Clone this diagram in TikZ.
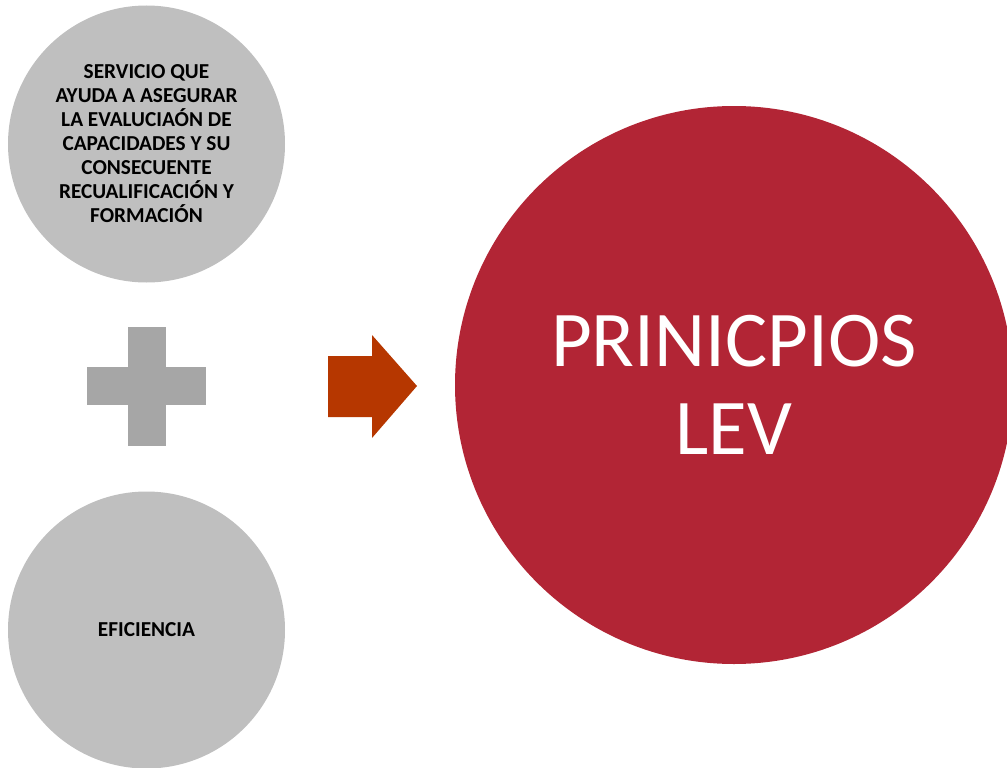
\documentclass[tikz,border=0pt]{standalone}
\usepackage{fontspec}
\setmainfont{Carlito}
\definecolor{grigio}{HTML}{BFBFBF}
\definecolor{grigioscuro}{HTML}{A6A6A6}
\definecolor{rosso}{HTML}{B22535}
\definecolor{arancio}{HTML}{B63700}
\tikzset{
	cerchio/.style={circle, fill=grigio, inner sep=0pt, minimum size=277pt, align=center,
		font=\bfseries\fontsize{21.3}{24}\selectfont},
}
\begin{document}
\begin{tikzpicture}[x=1pt, y=-1pt]
		\useasboundingbox (0,0) rectangle (1007,768);
		% cerchi grigi
		\node[cerchio] (servicio) at (146.5,144) {SERVICIO QUE\\AYUDA A ASEGURAR\\LA EVALUCIAÓN DE\\CAPACIDADES Y SU\\CONSECUENTE\\RECUALIFICACIÓN Y\\FORMACIÓN};
		\node[cerchio] (eficiencia) at (146.5,630) {EFICIENCIA};
		
		% segno piu
		\fill[color=grigioscuro] (128,327) rectangle (166,446);
		\fill[color=grigioscuro] (87,367) rectangle (206,405);
		
		% freccia
		\fill[color=arancio] (328,356) -- (372,356) -- (372,335) -- (417,386) -- (372,438) -- (372,417) -- (328,417) -- cycle;
		
		% cerchio rosso
		\node[circle, fill=rosso, inner sep=0pt, minimum size=558pt, align=center, text=white,
			font=\fontsize{79}{88}\selectfont] (principios) at (734,385) {PRINICPIOS\\LEV};
	\end{tikzpicture}
\end{document}
